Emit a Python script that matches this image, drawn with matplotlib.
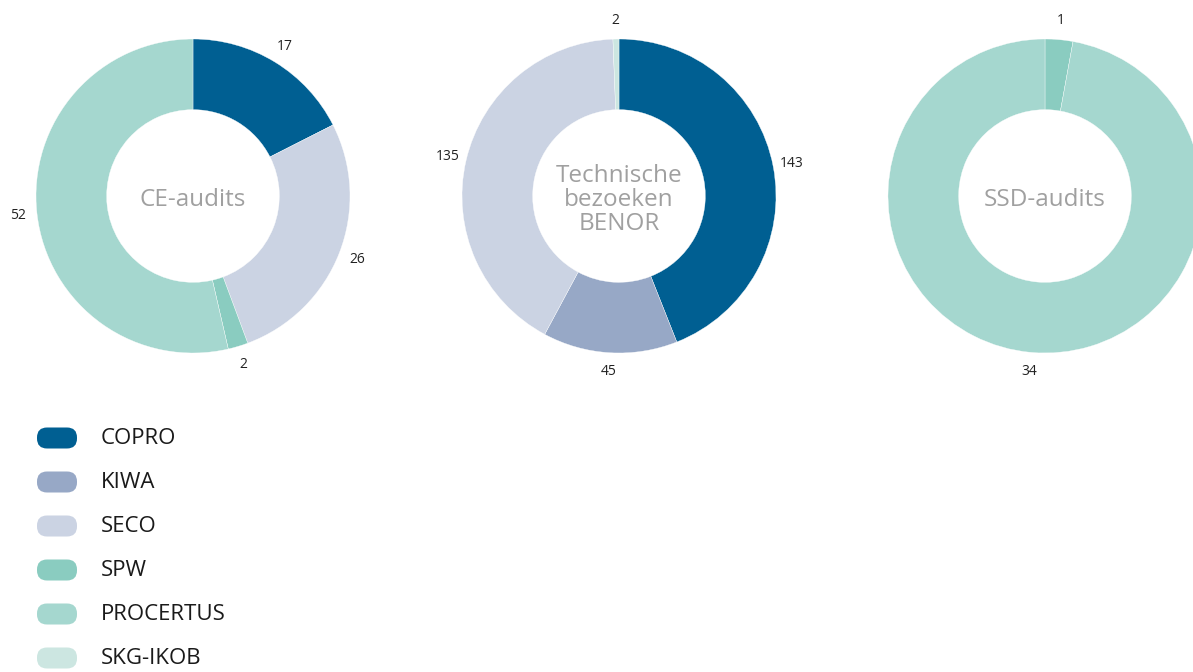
import matplotlib.pyplot as plt
from matplotlib.patches import FancyBboxPatch

plt.rcParams['font.family'] = ['Open Sans', 'DejaVu Sans']

# Legend categories and colours
names = ['COPRO', 'KIWA', 'SECO', 'SPW', 'PROCERTUS', 'SKG-IKOB']
colors = ['#005f92', '#97a8c6', '#cbd3e3', '#8accc0', '#a5d7cf', '#cce6e1']

# CE-audits
ce_names = ['COPRO', 'SECO', 'SPW', 'PROCERTUS']
ce_values = [17, 26, 2, 52]

# Technische bezoeken BENOR
benor_names = ['COPRO', 'KIWA', 'SECO', 'SKG-IKOB']
benor_values = [143, 45, 135, 2]

# SSD-audits
ssd_names = ['SPW', 'PROCERTUS']
ssd_values = [1, 34]

W, H = 1193, 672
fig = plt.figure(figsize=(W / 100, H / 100), dpi=100)
col = dict(zip(names, colors))

R = 157  # outer radius in pixels
LIM = 1.3


def donut(cx, cy, labels, values, title):
    size = 2 * R * LIM
    ax = fig.add_axes([(cx - size / 2) / W, 1 - (cy + size / 2) / H, size / W, size / H])
    wedges, texts = ax.pie(values, labels=[str(v) for v in values],
                           colors=[col[n] for n in labels],
                           startangle=90, counterclock=False, radius=1,
                           labeldistance=1.12,
                           wedgeprops=dict(width=0.45, edgecolor='white', linewidth=0.25),
                           textprops=dict(fontsize=10, color='#222222'))
    for t in texts:
        t.set_ha('center')
        t.set_va('center')
    ax.text(0, -0.025, title, ha='center', va='center', fontsize=17.5, color='#a0a0a0',
            linespacing=1.02)
    ax.set_xlim(-LIM, LIM)
    ax.set_ylim(-LIM, LIM)
    ax.set_aspect('equal')
    ax.axis('off')


donut(193, 196, ce_names, ce_values, 'CE-audits')
donut(619, 196, benor_names, benor_values, 'Technische\nbezoeken\nBENOR')
donut(1045, 196, ssd_names, ssd_values, 'SSD-audits')

# legend
lax = fig.add_axes([0, 0, 1, 1])
lax.set_xlim(0, W)
lax.set_ylim(H, 0)
lax.axis('off')
y0, dy = 438, 44
for i, (n, c) in enumerate(zip(names, colors)):
    y = y0 + i * dy
    lax.add_patch(FancyBboxPatch((37 + 10, y - 10.5 + 10), 40 - 20, 21 - 20,
                                 boxstyle='round,pad=10', fc=c, ec='none'))
    lax.text(101, y + 1, n, fontsize=16, va='center', ha='left', color='#1a1a1a')

fig.savefig('out.png', dpi=100)
